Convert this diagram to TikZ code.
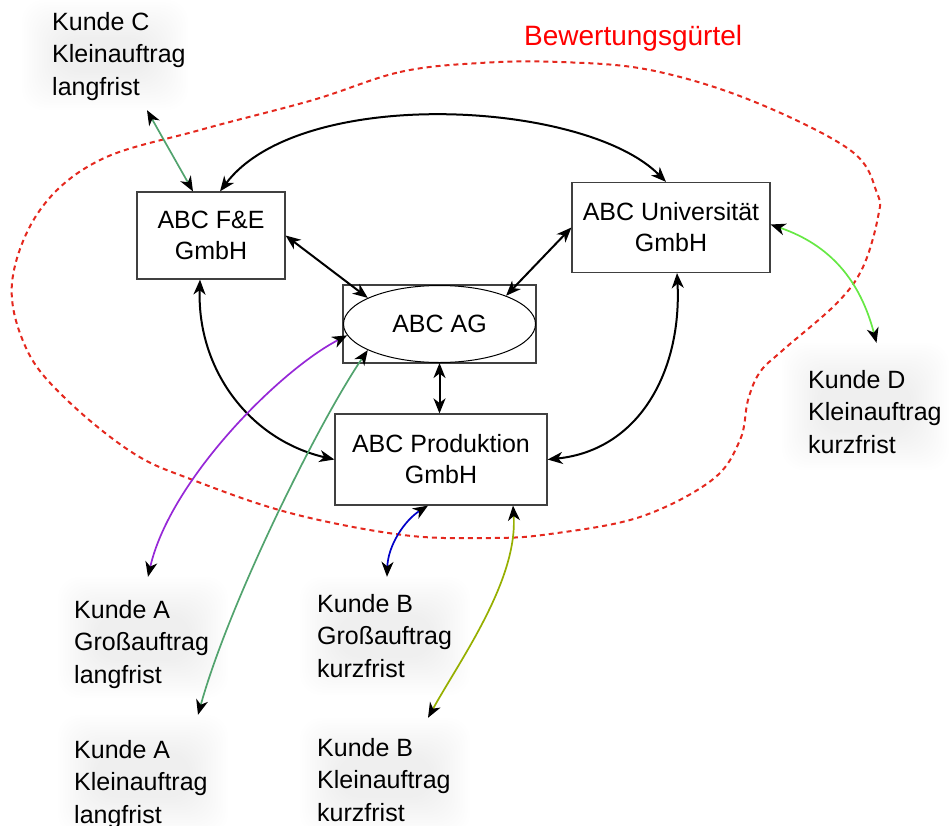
\documentclass[tikz,border=0pt]{standalone}
\usepackage{fontspec}
\setmainfont{Liberation Sans}
\usetikzlibrary{arrows.meta,shapes.geometric,calc}
\pgfdeclarelayer{background}
\pgfsetlayers{background,main}
\definecolor{seag}{RGB}{82,163,110}
\definecolor{lgreen}{RGB}{102,232,68}
\definecolor{purp}{RGB}{150,40,215}
\definecolor{dblue}{RGB}{0,0,200}
\definecolor{oliv}{RGB}{150,175,0}
\definecolor{beltred}{RGB}{228,40,30}
\newcommand\glowfill[1]{\foreach \gi in {0,...,15}{\fill[black,opacity=0.0022,rounded corners=22pt] ($(#1.south west)+(\gi*2.5pt,\gi*2.5pt)$) rectangle ($(#1.north east)-(\gi*2.5pt,\gi*2.5pt)$);}}
\tikzset{
 box/.style={draw=black!75, line width=1.2pt, rectangle, inner sep=0pt, align=center, font=\fontsize{25}{31}\selectfont},
 kunde/.style={anchor=base west, inner sep=0pt, align=left, font=\fontsize{25}{32.5}\selectfont},
 glow/.style={rectangle, inner sep=0pt, draw=none},
 conn/.style={line width=2pt, {Stealth[length=15pt,width=12pt,inset=4.5pt,color=black]}-{Stealth[length=15pt,width=12pt,inset=4.5pt,color=black]}},
 cconn/.style={conn, line width=1.7pt},
 belt/.style={beltred, line width=2pt, dash pattern=on 5pt off 4pt},
}
\begin{document}
\begin{tikzpicture}[x=1pt,y=-1pt]
\useasboundingbox (0,0) rectangle (949,825);
% belt
\draw[belt] plot[smooth cycle, tension=0.6] coordinates {(313,100) (400,72) (480,63) (560,62) (650,70) (750,100) (850,150) (877,193) (878,217) (863,267) (837,303) (783,350) (760,372) (748,400) (740,440) (712,480) (640,517) (550,534) (490,538) (403,535) (290,513) (193,480) (133,453) (67,400) (27,350) (12,283) (40,210) (100,160) (200,130)};
\node[text=red, font=\fontsize{28}{34}\selectfont, anchor=base west, inner sep=0pt] (bel) at (524,45) {Bewertungsgürtel};
% main nodes
\node[box, minimum width=148pt, minimum height=87pt] (fe) at (211,235.5) {\raisebox{-3pt}{ABC F\&E}\\\raisebox{-3pt}{GmbH}};
\node[box, minimum width=198pt, minimum height=90pt] (uni) at (671,227.5) {ABC Universität\\GmbH};
\node[draw=black!75, line width=1.2pt, minimum width=193pt, minimum height=78pt, inner sep=0pt] (agbox) at (439.5,324) {};
\node[ellipse, draw, line width=1pt, minimum width=192pt, minimum height=77pt, inner sep=0pt, font=\fontsize{25}{31}\selectfont] (ag) at (439.5,324) {ABC AG};
\node[box, minimum width=212pt, minimum height=91pt] (prod) at (441,459.5) {ABC Produktion\\GmbH};
% customers (anchor = baseline of last line)
\node[kunde] (kc) at (52,95) {Kunde C\\Kleinauftrag\\langfrist};
\node[kunde] (kd) at (808,453) {Kunde D\\Kleinauftrag\\kurzfrist};
\node[kunde] (ka1) at (74,683) {Kunde A\\Großauftrag\\langfrist};
\node[kunde] (ka2) at (74,823) {Kunde A\\Kleinauftrag\\langfrist};
\node[kunde] (kb1) at (317,677) {Kunde B\\Großauftrag\\kurzfrist};
\node[kunde] (kb2) at (317,821) {Kunde B\\Kleinauftrag\\kurzfrist};
\node[glow, minimum width=166pt, minimum height=110pt] (kcg) at (105,55) {};
\node[glow, minimum width=167pt, minimum height=127pt] (kdg) at (865.5,406.5) {};
\node[glow, minimum width=170pt, minimum height=121pt] (ka1g) at (143,637.5) {};
\node[glow, minimum width=170pt, minimum height=120pt] (ka2g) at (143,775) {};
\node[glow, minimum width=170pt, minimum height=118pt] (kb1g) at (385,636) {};
\node[glow, minimum width=170pt, minimum height=117pt] (kb2g) at (385,776.5) {};
\begin{pgfonlayer}{background}
\glowfill{kcg}
\glowfill{kdg}
\glowfill{ka1g}
\glowfill{ka2g}
\glowfill{kb1g}
\glowfill{kb2g}
\end{pgfonlayer}
% black connectors
\draw[conn] ([xshift=9pt]fe.north) .. controls (300,85) and (585,100) .. ([xshift=-5pt]uni.north);
\draw[conn] (fe.east) -- (ag.160);
\draw[conn] (uni.west) -- (ag.23);
\draw[conn] (ag.south) -- (ag.south |- prod.north);
\draw[conn] ([xshift=-11pt]fe.south) .. controls (197,370) and (250,440) .. (prod.west);
\draw[conn] ([xshift=6pt]uni.south) .. controls (682,370) and (640,450) .. (prod.east);
% coloured connectors
\draw[cconn, seag] ([xshift=42pt]kcg.south) -- ([xshift=-18pt]fe.north);
\draw[cconn, lgreen] ([yshift=3pt]uni.east) .. controls (830,245) and (860,280) .. ([xshift=11pt]kdg.north);
\draw[cconn, purp] (ag.187) .. controls (280,370) and (170,480) .. ([xshift=5pt]ka1g.north);
\draw[cconn, seag] (ag.200) .. controls (320,420) and (230,600) .. ([xshift=55pt]ka2g.north);
\draw[cconn, dblue] ([xshift=-13pt]prod.south) .. controls (405,520) and (388,545) .. ([xshift=2pt]kb1g.north);
\draw[cconn, oliv] ([xshift=72pt]prod.south) .. controls (518,580) and (460,660) .. ([xshift=43pt]kb2g.north);
\end{tikzpicture}
\end{document}
